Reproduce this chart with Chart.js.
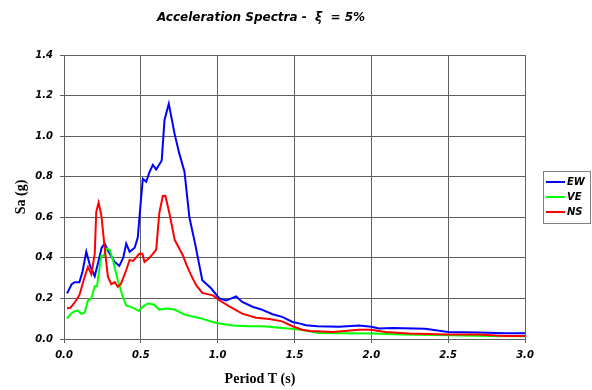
<!DOCTYPE html>
<html>
<head>
<meta charset="utf-8">
<script src="https://cdn.jsdelivr.net/npm/chart.js@4"></script>
<style>
html,body{margin:0;padding:0;background:#fff;}
#wrap{width:592px;height:390px;}
</style>
</head>
<body>
<div id="wrap"><canvas id="c" width="592" height="390"></canvas></div>
<script>
const titleText = 'Acceleration Spectra -  \u03BE  = 5%';
const xTitle = 'Period T (s)';
const yTitle = 'Sa (g)';
const seriesNames = ['EW', 'VE', 'NS'];

const ewT  = [0.02,0.05,0.07,0.10,0.12,0.145,0.17,0.20,0.22,0.245,0.265,0.29,0.33,0.36,0.385,0.405,0.427,0.46,0.48,0.50,0.513,0.535,0.555,0.578,0.60,0.636,0.654,0.682,0.72,0.75,0.784,0.816,0.853,0.90,0.957,1.01,1.055,1.09,1.12,1.16,1.23,1.28,1.357,1.42,1.487,1.53,1.574,1.65,1.79,1.92,2.0,2.05,2.14,2.35,2.5,2.7,2.87,3.0];
const ewSa = [0.225,0.27,0.28,0.28,0.33,0.43,0.36,0.31,0.37,0.45,0.47,0.43,0.38,0.36,0.40,0.47,0.43,0.45,0.50,0.68,0.79,0.775,0.82,0.858,0.836,0.88,1.08,1.16,1.01,0.915,0.825,0.60,0.47,0.29,0.25,0.20,0.19,0.20,0.21,0.183,0.158,0.147,0.122,0.109,0.084,0.077,0.068,0.063,0.06,0.066,0.06,0.052,0.054,0.051,0.035,0.032,0.028,0.028];

const veT  = [0.02,0.045,0.07,0.09,0.113,0.134,0.156,0.178,0.20,0.215,0.232,0.243,0.26,0.275,0.297,0.318,0.35,0.383,0.405,0.448,0.487,0.513,0.545,0.585,0.62,0.665,0.72,0.784,0.88,0.99,1.1,1.2,1.3,1.42,1.53,1.66,2.0,2.2,2.5,2.77,3.0];
const veSa = [0.10,0.125,0.137,0.14,0.124,0.13,0.19,0.20,0.26,0.26,0.355,0.41,0.41,0.446,0.44,0.39,0.29,0.207,0.166,0.155,0.138,0.16,0.175,0.17,0.145,0.15,0.145,0.12,0.104,0.079,0.066,0.063,0.063,0.054,0.047,0.03,0.027,0.022,0.018,0.015,0.013];

const nsT  = [0.02,0.043,0.07,0.10,0.134,0.156,0.178,0.20,0.21,0.225,0.243,0.264,0.286,0.308,0.33,0.35,0.37,0.405,0.427,0.45,0.49,0.51,0.524,0.556,0.578,0.60,0.62,0.643,0.66,0.686,0.72,0.75,0.773,0.80,0.827,0.86,0.90,0.94,0.97,1.01,1.076,1.16,1.25,1.336,1.42,1.487,1.55,1.6,1.75,1.92,2.0,2.09,2.245,2.5,2.7,2.87,3.0];
const nsSa = [0.15,0.155,0.18,0.216,0.306,0.355,0.32,0.42,0.627,0.672,0.61,0.454,0.306,0.27,0.28,0.257,0.27,0.34,0.39,0.385,0.42,0.42,0.38,0.40,0.42,0.44,0.62,0.705,0.705,0.62,0.49,0.446,0.413,0.36,0.315,0.265,0.227,0.22,0.215,0.191,0.161,0.125,0.105,0.099,0.087,0.063,0.046,0.04,0.035,0.046,0.046,0.035,0.027,0.022,0.022,0.015,0.015];

const xTicks = [0, 0.5, 1.0, 1.5, 2.0, 2.5, 3.0];
const yTicks = [0, 0.2, 0.4, 0.6, 0.8, 1.0, 1.2, 1.4];

const pts = (t, v) => t.map((x, i) => ({x: x, y: v[i]}));

const SANS = '"DejaVu Sans", Arial, sans-serif';
const SERIF = '"Liberation Serif", "Times New Roman", serif';
const GRID = '#606060';

const decor = {
  id: 'decor',
  afterDraw(chart) {
    const ctx = chart.ctx;
    ctx.save();
    ctx.fillStyle = '#000';
    ctx.textAlign = 'center';
    ctx.textBaseline = 'middle';
    ctx.font = 'italic bold 12px ' + SANS;
    ctx.fillText(titleText, 261, 18);
    ctx.font = 'bold 14px ' + SERIF;
    ctx.fillText(xTitle, 260, 379);
    ctx.save();
    ctx.translate(21, 197);
    ctx.rotate(-Math.PI / 2);
    ctx.fillText(yTitle, 0, 0);
    ctx.restore();
    // legend
    const bx = 543.5, by = 171.5, bw = 47, bh = 52;
    ctx.strokeStyle = '#808080';
    ctx.lineWidth = 1;
    ctx.strokeRect(bx, by, bw, bh);
    ctx.textAlign = 'left';
    ctx.font = 'italic bold 10px ' + SANS;
    chart.data.datasets.forEach((ds, i) => {
      const y = 182 + i * 15;
      ctx.strokeStyle = ds.borderColor;
      ctx.lineWidth = 2;
      ctx.beginPath();
      ctx.moveTo(546, y);
      ctx.lineTo(565, y);
      ctx.stroke();
      ctx.fillStyle = '#000';
      ctx.fillText(ds.label, 567, y + 0.5);
    });
    ctx.restore();
  }
};

new Chart(document.getElementById('c'), {
  type: 'line',
  data: {
    datasets: [
      {label: seriesNames[0], data: pts(ewT, ewSa), borderColor: '#0000FF', order: 2},
      {label: seriesNames[1], data: pts(veT, veSa), borderColor: '#00FF00', order: 1},
      {label: seriesNames[2], data: pts(nsT, nsSa), borderColor: '#FF0000', order: 0}
    ]
  },
  options: {
    responsive: false,
    animation: false,
    devicePixelRatio: 1,
    layout: {padding: {top: 55, right: 67, bottom: 0, left: 0}},
    elements: {
      line: {borderWidth: 2, tension: 0, fill: false},
      point: {radius: 0, hoverRadius: 0}
    },
    plugins: {legend: {display: false}, title: {display: false}, tooltip: {enabled: false}},
    scales: {
      x: {
        type: 'linear', min: 0, max: 3,
        afterFit(s) { s.height = 51; },
        afterBuildTicks(s) { s.ticks = xTicks.map(v => ({value: v})); },
        grid: {color: GRID, lineWidth: 1, tickLength: 4, drawTicks: true},
        border: {color: GRID, width: 1},
        ticks: {color: '#000', padding: 6, maxRotation: 0, font: {family: SANS, size: 10, weight: 'bold', style: 'italic'}, callback: v => Number(v).toFixed(1)}
      },
      y: {
        type: 'linear', min: 0, max: 1.4,
        afterFit(s) { s.width = 64; },
        afterBuildTicks(s) { s.ticks = yTicks.map(v => ({value: v})); },
        grid: {color: GRID, lineWidth: 1, tickLength: 4, drawTicks: true},
        border: {color: GRID, width: 1},
        ticks: {color: '#000', padding: 7, font: {family: SANS, size: 10, weight: 'bold', style: 'italic'}, callback: v => Number(v).toFixed(1)}
      }
    }
  },
  plugins: [decor]
});
</script>
</body>
</html>
